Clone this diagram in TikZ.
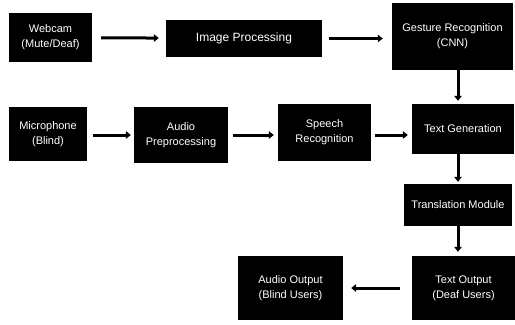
\documentclass[tikz,border=0pt]{standalone}
\usepackage{fontspec}
\setmainfont{Liberation Sans}
\usetikzlibrary{calc,arrows.meta}
\tikzset{
  blk/.style = {fill = black, text = white, align = center, inner sep = 0pt,
    font = \fontsize{11bp}{15bp}\selectfont},
  flow/.style = {draw, line width = 3bp, -{Triangle[length = 5bp, width = 7.5bp]}}
}

\begin{document}
\begin{tikzpicture}[x = 1bp, y = -1bp]
            \useasboundingbox(0,0)rectangle(515,324);
            %上の列
            \node[blk, minimum width = 83bp, minimum height = 49bp](cam)at(50.5,37.5){Webcam\\(Mute/Deaf)};
            \node[blk, minimum width = 156bp, minimum height = 37bp, font = \fontsize{12bp}{15bp}\selectfont](img)at(244,38.5){Image Processing};
            \node[blk, minimum width = 121bp, minimum height = 67bp](gest)at(452.5,36.5){Gesture Recognition\\(CNN)};
            %中の列
            \node[blk, minimum width = 78bp, minimum height = 54bp](mic)at(48,134){Microphone\\(Blind)};
            \node[blk, minimum width = 94bp, minimum height = 56bp](apre)at(181,135){Audio\\Preprocessing};
            \node[blk, minimum width = 93bp, minimum height = 57bp](speech)at(324.5,132.5){Speech\\Recognition};
            \node[blk, minimum width = 102bp, minimum height = 50bp](tgen)at(463,129){Text Generation};
            %右の列と出力
            \node[blk, minimum width = 108bp, minimum height = 42bp](trans)at(458,205){Translation Module};
            \node[blk, minimum width = 103bp, minimum height = 64bp](tout)at(463.5,288){Text Output\\(Deaf Users)};
            \node[blk, minimum width = 105bp, minimum height = 64bp](aout)at(290.5,288){Audio Output\\(Blind Users)};
            %横の矢印
            \path[flow, shorten <= 9bp, shorten >= 7bp](cam)to(img);
            \path[flow, shorten <= 7bp, shorten >= 9bp](img)to(img -| gest.west);
            \path[flow, shorten <= 6bp, shorten >= 3bp](mic.east |- apre)to(apre);
            \path[flow, shorten <= 5bp, shorten >= 4bp](apre)to(apre -| speech.west);
            \path[flow, shorten <= 4bp, shorten >= 4bp](speech.east |- apre)to(apre -| tgen.west);
            \path[flow, shorten <= 12bp, shorten >= 8bp](tout)to(aout);
            %縦の矢印
            \path[flow, shorten >= 3bp](gest.south -| trans)to(tgen.north -| trans);
            \path[flow, shorten >= 2bp](tgen.south -| trans)to(trans);
            \path[flow, shorten >= 4bp](trans)to(tout.north -| trans);
        \end{tikzpicture}
\end{document}
